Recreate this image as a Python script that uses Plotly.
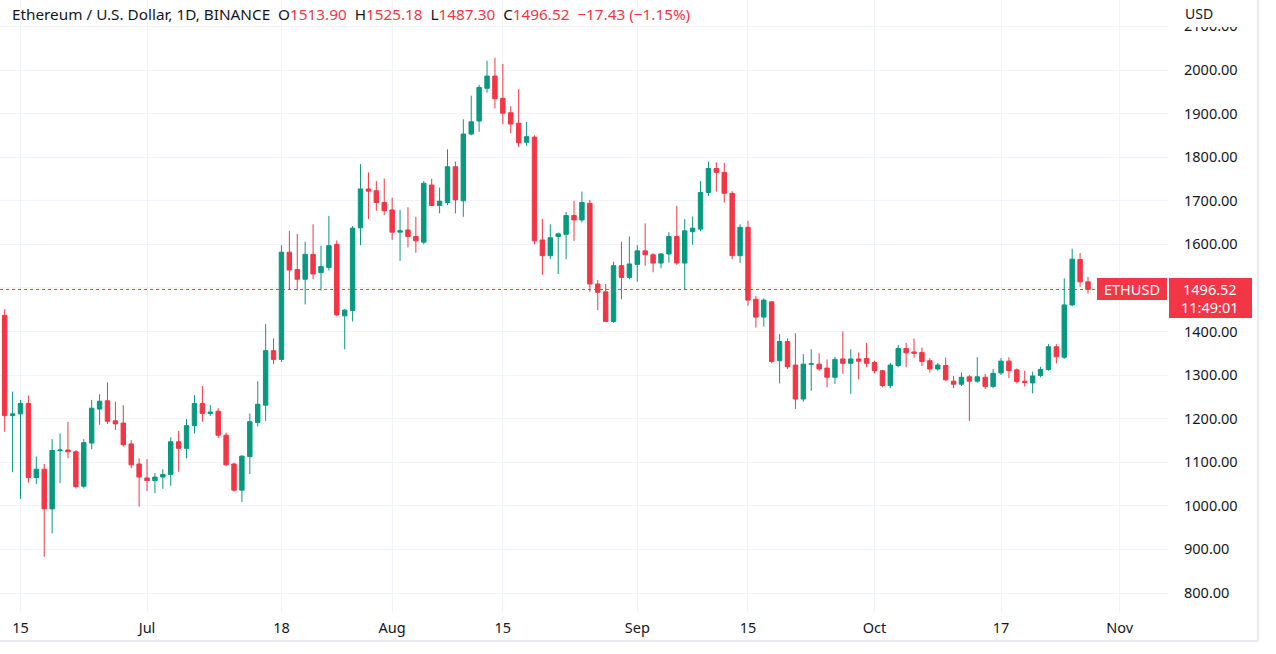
import pandas as pd
import plotly.graph_objects as go

# ETH/USD daily candles (Binance), 12 Jun - 28 Oct 2022
dates = pd.date_range("2022-06-12", "2022-10-28", freq="D")

open_ = [
    # Jun 12-30
    1527, 1437, 1207, 1211, 1235, 1065, 1084, 993, 1127, 1128, 1124, 1045, 1144, 1222, 1241, 1195, 1190, 1142, 1096,
    # Jul
    1064, 1058, 1066, 1072, 1147, 1132, 1184, 1235, 1212, 1217, 1162, 1096, 1036, 1113, 1191, 1231, 1356, 1336, 1582, 1542,
    1520, 1577, 1535, 1547, 1600, 1436, 1448, 1638, 1727, 1723, 1696,
    # Aug
    1679, 1628, 1633, 1618, 1605, 1736, 1689, 1696, 1778, 1700, 1853, 1883, 1958, 1986, 1935, 1902, 1878, 1834, 1846, 1610,
    1574, 1618, 1623, 1666, 1656, 1694, 1509, 1491, 1423, 1551, 1524,
    # Sep
    1554, 1585, 1576, 1557, 1578, 1618, 1557, 1629, 1635, 1719, 1774, 1765, 1717, 1574, 1639, 1474, 1433, 1468, 1333, 1377,
    1323, 1245, 1325, 1325, 1316, 1295, 1337, 1327, 1337, 1338,
    # Oct 1-28
    1329, 1310, 1276, 1322, 1361, 1353, 1352, 1333, 1314, 1322, 1286, 1279, 1296, 1286, 1295, 1274, 1305, 1332, 1312, 1286,
    1282, 1299, 1313, 1365, 1341, 1461, 1565, 1513.90,
]

high = [
    1535, 1451, 1262, 1243, 1253, 1113, 1096, 1153, 1166, 1193, 1128, 1153, 1243, 1256, 1283, 1239, 1231, 1151, 1109,
    1107, 1075, 1084, 1157, 1172, 1199, 1254, 1275, 1231, 1224, 1168, 1099, 1116, 1212, 1286, 1417, 1384, 1598, 1631, 1624,
    1606, 1646, 1597, 1665, 1609, 1452, 1642, 1784, 1765, 1745, 1751,
    1707, 1679, 1685, 1663, 1745, 1751, 1730, 1818, 1790, 1887, 1941, 1966, 2021, 2028, 2014, 1917, 1956, 1881, 1850, 1658,
    1646, 1627, 1674, 1700, 1721, 1702, 1518, 1509, 1560, 1606, 1618,
    1598, 1648, 1580, 1580, 1628, 1688, 1658, 1664, 1745, 1790, 1788, 1787, 1722, 1646, 1654, 1482, 1476, 1470, 1394, 1384,
    1396, 1348, 1359, 1350, 1336, 1342, 1400, 1359, 1352, 1374,
    1333, 1312, 1328, 1369, 1374, 1384, 1363, 1339, 1328, 1340, 1298, 1306, 1300, 1341, 1303, 1314, 1339, 1341, 1315, 1310,
    1308, 1319, 1371, 1371, 1522, 1590, 1580, 1525.18,
]

low = [
    1425, 1170, 1077, 1016, 1053, 1050, 883, 937, 1052, 1109, 1040, 1040, 1130, 1186, 1188, 1174, 1136, 1086, 998,
    1034, 1029, 1039, 1046, 1078, 1109, 1166, 1193, 1206, 1155, 1092, 1032, 1009, 1073, 1182, 1195, 1325, 1330, 1497, 1494,
    1462, 1520, 1494, 1540, 1435, 1359, 1423, 1598, 1658, 1677, 1667,
    1610, 1562, 1593, 1581, 1600, 1688, 1671, 1690, 1671, 1663, 1850, 1858, 1948, 1912, 1876, 1855, 1823, 1826, 1600, 1530,
    1566, 1532, 1566, 1608, 1650, 1491, 1449, 1422, 1420, 1474, 1520,
    1514, 1551, 1536, 1545, 1558, 1553, 1495, 1599, 1630, 1711, 1721, 1696, 1566, 1557, 1459, 1409, 1411, 1327, 1281, 1314,
    1222, 1239, 1264, 1310, 1272, 1280, 1303, 1257, 1290, 1318,
    1304, 1272, 1270, 1318, 1318, 1340, 1321, 1306, 1310, 1287, 1270, 1275, 1195, 1282, 1268, 1270, 1300, 1293, 1281, 1274,
    1258, 1295, 1310, 1327, 1337, 1458, 1503, 1487.30,
]

close = [
    1437, 1207, 1211, 1235, 1065, 1084, 993, 1127, 1128, 1124, 1044, 1145, 1224, 1240, 1194, 1188, 1140, 1094, 1066,
    1058, 1066, 1072, 1147, 1132, 1184, 1235, 1212, 1215, 1162, 1094, 1036, 1114, 1193, 1233, 1356, 1336, 1582, 1541, 1520,
    1577, 1532, 1549, 1597, 1438, 1449, 1637, 1727, 1722, 1696, 1677,
    1628, 1631, 1618, 1608, 1740, 1689, 1699, 1778, 1702, 1853, 1881, 1960, 1986, 1934, 1901, 1876, 1833, 1847, 1608, 1574,
    1615, 1624, 1666, 1656, 1696, 1509, 1490, 1423, 1551, 1524, 1555,
    1585, 1576, 1557, 1578, 1618, 1557, 1631, 1637, 1719, 1774, 1765, 1717, 1574, 1639, 1472, 1433, 1472, 1331, 1377, 1319,
    1245, 1325, 1326, 1314, 1295, 1336, 1327, 1337, 1332, 1327,
    1310, 1276, 1323, 1361, 1351, 1350, 1331, 1314, 1323, 1289, 1279, 1295, 1286, 1296, 1274, 1304, 1332, 1310, 1285, 1283,
    1298, 1313, 1365, 1342, 1461, 1566, 1513.95, 1496.52,
]

# time axis labels
tick_dates = ["2022-06-15", "2022-07-01", "2022-07-18", "2022-08-01", "2022-08-15",
              "2022-09-01", "2022-09-15", "2022-10-01", "2022-10-17", "2022-11-01"]
tick_text = ["15", "Jul", "18", "Aug", "15", "Sep", "15", "Oct", "17", "Nov"]

GREEN = "#089981"
RED = "#F23645"
TEXT = "#131722"
GRID = "#F0F3FA"
FONT = "Noto Sans"

# plot area in pixels (0..PW, 0..PH from top)
PW, PH = 1168, 612


def px(x):
    return x / PW


def py(y):
    return (PH - y) / PH


fig = go.Figure(go.Candlestick(
    x=dates, open=open_, high=high, low=low, close=close,
    increasing=dict(line=dict(color=GREEN, width=1), fillcolor=GREEN),
    decreasing=dict(line=dict(color=RED, width=1), fillcolor=RED),
    whiskerwidth=0,
    hoverinfo="skip",
))

last = close[-1]
chg = close[-1] - close[-2]
pct = chg / close[-2] * 100


def neg(v):
    return ("−" if v < 0 else "+") + f"{abs(v):.2f}"


sp = "\u00a0"
val = lambda s: f"<span style='color:{RED}'>{s}</span>"
header = (f"Ethereum / U.S. Dollar, 1D, BINANCE{sp*2}"
          f"O{val(f'{open_[-1]:.2f}')}{sp*2}H{val(f'{high[-1]:.2f}')}{sp*2}"
          f"L{val(f'{low[-1]:.2f}')}{sp*2}C{val(f'{last:.2f}')}{sp*2}"
          f"{val(neg(chg) + ' (' + neg(pct) + '%)')}")

shapes = [
    # dotted last price line
    dict(type="line", xref="paper", yref="y", x0=0, x1=px(1097), y0=last, y1=last,
         line=dict(color=RED, width=1, dash="dot")),
    # symbol label and price label
    dict(type="rect", xref="paper", yref="y", ysizemode="pixel", yanchor=last,
         x0=px(1097), x1=px(1167), y0=-10.5, y1=11.5, fillcolor=RED, line=dict(width=0)),
    dict(type="rect", xref="paper", yref="y", ysizemode="pixel", yanchor=last,
         x0=px(1169), x1=px(1252), y0=-28.5, y1=11.5, fillcolor=RED, line=dict(width=0)),
    # white band at top of price scale
    dict(type="rect", xref="paper", yref="paper", x0=px(1169), x1=px(1256), y0=py(27), y1=1,
         fillcolor="white", line=dict(width=0), layer="above"),
    # chart frame
    dict(type="line", xref="paper", yref="paper", x0=px(1258), x1=px(1258), y0=py(641), y1=1,
         line=dict(color="#E0E3EB", width=1.5)),
    dict(type="line", xref="paper", yref="paper", x0=0, x1=px(1258), y0=py(641), y1=py(641),
         line=dict(color="#E0E3EB", width=1.5)),
]

annotations = [
    dict(text=header, xref="paper", yref="paper", x=px(10), y=py(14), xanchor="left", yanchor="middle",
         showarrow=False, font=dict(size=15.3, color=TEXT, family=FONT)),
    dict(text="USD", xref="paper", yref="paper", x=px(1183), y=py(13), xanchor="left", yanchor="middle",
         showarrow=False, font=dict(size=14, color=TEXT, family=FONT)),
    dict(text="ETHUSD", xref="paper", yref="y", x=px(1132), y=last, xanchor="center", yanchor="middle",
         showarrow=False, font=dict(size=14.5, color="white", family=FONT)),
    dict(text=f"{last:.2f}", xref="paper", yref="y", x=px(1210), y=last, xanchor="center", yanchor="middle",
         showarrow=False, font=dict(size=14.5, color="white", family=FONT)),
    dict(text="11:49:01", xref="paper", yref="y", x=px(1210), y=last, yshift=-18, xanchor="center",
         yanchor="middle", showarrow=False, font=dict(size=14.5, color="white", family=FONT)),
]

fig.update_layout(
    width=1276, height=654,
    margin=dict(l=0, r=1276 - PW, t=0, b=654 - PH),
    paper_bgcolor="white", plot_bgcolor="white",
    showlegend=False,
    boxgap=0.2,
    font=dict(family=FONT, size=14.5, color=TEXT),
    shapes=shapes,
    annotations=annotations,
    xaxis=dict(
        type="date",
        range=["2022-06-12 09:45", "2022-11-07 02:50"],
        tickvals=tick_dates, ticktext=tick_text,
        showgrid=True, gridcolor=GRID, gridwidth=1,
        zeroline=False, showline=False, ticks="",
        ticklabelstandoff=5,
        rangeslider=dict(visible=False),
        fixedrange=True,
    ),
    yaxis=dict(
        side="right",
        range=[756.4, 2160.6],
        dtick=100, tick0=0, tickformat=".2f",
        showgrid=True, gridcolor=GRID, gridwidth=1,
        zeroline=False, showline=False, ticks="",
        ticklabelstandoff=15,
        fixedrange=True,
    ),
)

fig.write_html("out.html", config={"displayModeBar": False},
               post_script="document.body.style.margin='0';")
